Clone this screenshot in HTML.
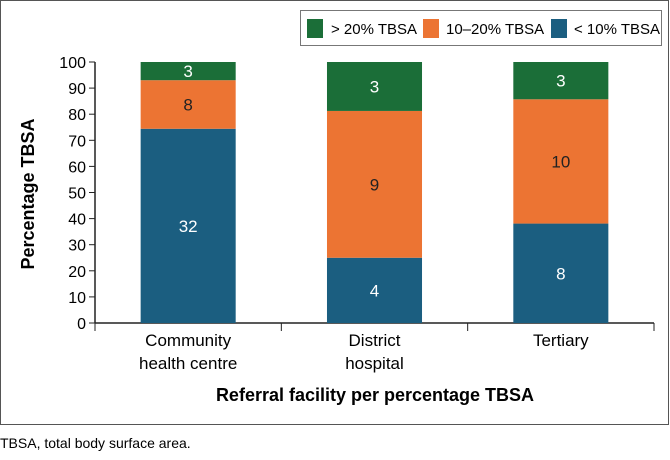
<!DOCTYPE html>
<html><head><meta charset="utf-8"><style>
body{margin:0;background:#fff;font-family:"Liberation Sans",sans-serif;}
svg text{font-family:"Liberation Sans",sans-serif;}
</style></head><body>
<svg id="chart" width="670" height="455" xmlns="http://www.w3.org/2000/svg">
<rect x="0.5" y="0.5" width="668" height="424" fill="none" stroke="#555" stroke-width="1"/>
<g>
<rect x="300.5" y="10.5" width="361" height="35" fill="#fff" stroke="#777"/>
<rect x="307" y="19" width="16" height="19" fill="#1b6e38"/>
<text x="331" y="34" font-size="15">&gt; 20% TBSA</text>
<rect x="423" y="19" width="16" height="19" fill="#ec7433"/>
<text x="446" y="34" font-size="15">10–20% TBSA</text>
<rect x="551" y="19" width="16" height="19" fill="#1b5e80"/>
<text x="574" y="34" font-size="15">&lt; 10% TBSA</text>
</g>
<g id="plot"></g>
<text transform="translate(34,194) rotate(-90)" text-anchor="middle" font-size="18" font-weight="bold">Percentage TBSA</text>
<text x="375" y="401" text-anchor="middle" font-size="18" font-weight="bold">Referral facility per percentage TBSA</text>
<text x="0" y="448" font-size="14">TBSA, total body surface area.</text>
</svg>
<script>
const categories=[["Community","health centre"],["District","hospital"],["Tertiary"]];
const lt10=[32,4,8];
const mid=[8,9,10];
const gt20=[3,3,3];
const yTicks=[0,10,20,30,40,50,60,70,80,90,100];
const colors=["#1b5e80","#ec7433","#1b6e38"];
const labelColors=["#fff","#222","#fff"];
const NS="http://www.w3.org/2000/svg";
const g=document.getElementById('plot');
const x0=95,x1=654,yb=323,yt=62;
const band=(x1-x0)/categories.length;
const y=v=>yb-(v/100)*(yb-yt);
function mk(t,a){const e=document.createElementNS(NS,t);for(const k in a)e.setAttribute(k,a[k]);g.appendChild(e);return e;}
let ax=mk('line',{x1:x0,y1:yt,x2:x0,y2:yb,stroke:'#222','stroke-width':1.5});


let bx=mk('line',{x1:x0,y1:yb,x2:x1,y2:yb,stroke:'#222','stroke-width':1.5});


yTicks.forEach(t=>{
 const l=mk('line',{x1:x0-6,x2:x0,y1:y(t),y2:y(t),stroke:'#222'});
 
 
 const tx=mk('text',{x:x0-9,y:y(t)+6,'text-anchor':'end','font-size':16});
 tx.textContent=t;
 
 
});
for(let i=0;i<=categories.length;i++){
 const l=mk('line',{x1:x0+i*band,x2:x0+i*band,y1:yb,y2:yb+8,stroke:'#222'});
 
 
}
const series=[lt10,mid,gt20];
const names=['lt10','10-20','gt20'];
categories.forEach((c,i)=>{
 const tot=lt10[i]+mid[i]+gt20[i];
 const cx=x0+band*(i+0.5),w=band*0.51;
 let acc=0;
 series.forEach((s,k)=>{
  const p=s[i]/tot*100;
  const r=mk('rect',{x:cx-w/2,y:y(acc+p),width:w,height:y(acc)-y(acc+p),fill:colors[k]});
  
  
  const t=mk('text',{x:cx,y:(y(acc)+y(acc+p))/2+6,'text-anchor':'middle','font-size':17,fill:labelColors[k]});
  t.textContent=s[i];
  
  
  acc+=p;
 });
 c.forEach((line,j)=>{
  const t=mk('text',{x:cx,y:346+j*23,'text-anchor':'middle','font-size':17});
  t.textContent=line;
  
  
 });
});
</script>
</body></html>
